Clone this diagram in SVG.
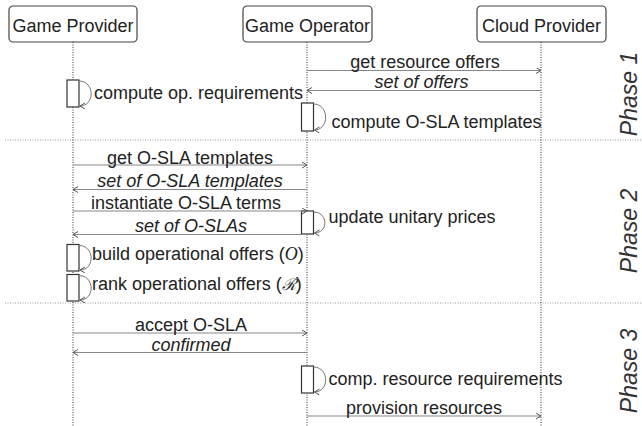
<svg xmlns="http://www.w3.org/2000/svg" width="642" height="426" viewBox="0 0 642 426">
<style>
  text { font-family: "Liberation Sans", Arial, sans-serif; font-size: 18px; fill: #222; }
  .it { font-style: italic; }
  .mid { text-anchor: middle; }
  .head { fill: #fff; stroke: #444; stroke-width: 1.2; }
  .life { stroke: #333; stroke-width: 1; stroke-dasharray: 1 1.5; fill: none; }
  .sep { stroke: #999; stroke-width: 1; stroke-dasharray: 1 1.5; fill: none; }
  .act { fill: #fff; stroke: #333; stroke-width: 1.2; }
  .msg { stroke: #888; stroke-width: 1.2; fill: none; marker-end: url(#ah); }
  .self { stroke: #777; stroke-width: 1; fill: none; marker-end: url(#ah); }
  .phase { font-size: 23px; font-style: italic; fill: #333; text-anchor: middle; }
</style>
<defs>
  <marker id="ah" markerWidth="8" markerHeight="8" refX="5" refY="3" orient="auto" markerUnits="userSpaceOnUse">
    <path d="M0,0 L5,3 L0,6" fill="none" stroke="#555" stroke-width="1"/>
  </marker>
</defs>
<rect width="642" height="426" fill="#fff"/>

<g id="separators">
  <line class="sep" x1="5" y1="140" x2="642" y2="140"/>
  <line class="sep" x1="5" y1="303" x2="642" y2="303"/>
</g>

<g id="game-provider">
  <line class="life" x1="73" y1="42" x2="73" y2="426"/>
  <rect class="head" x="9" y="6" width="128" height="36" rx="4"/>
  <text class="mid" x="73" y="32">Game Provider</text>
</g>
<g id="game-operator">
  <line class="life" x1="307" y1="42" x2="307" y2="426"/>
  <rect class="head" x="243" y="6" width="129" height="36" rx="4"/>
  <text class="mid" x="307.5" y="32">Game Operator</text>
</g>
<g id="cloud-provider">
  <line class="life" x1="541" y1="42" x2="541" y2="426"/>
  <rect class="head" x="477" y="6" width="129" height="36" rx="4"/>
  <text class="mid" x="541.5" y="32">Cloud Provider</text>
</g>

<g id="activations">
  <rect class="act" x="67" y="80" width="12" height="27"/>
  <rect class="act" x="301.5" y="103" width="12" height="28"/>
  <rect class="act" x="301.5" y="211" width="12" height="23"/>
  <rect class="act" x="67" y="244.5" width="12" height="26.5"/>
  <rect class="act" x="67" y="274.5" width="12" height="26.5"/>
  <rect class="act" x="301.5" y="366" width="12" height="27"/>
</g>

<g id="connectors">
  <line class="msg" x1="307" y1="70.5" x2="541" y2="70.5"/>
  <line class="msg" x1="541" y1="90.5" x2="307" y2="90.5"/>
  <path class="self" d="M79,81 C95,81 95,106 80,106"/>
  <path class="self" d="M313.5,104 C329.5,104 329.5,130 314.5,130"/>
  <line class="msg" x1="73" y1="165" x2="307" y2="165"/>
  <line class="msg" x1="307" y1="189.5" x2="73" y2="189.5"/>
  <line class="msg" x1="73" y1="211" x2="307" y2="211"/>
  <path class="self" d="M313.5,212 C328.5,212 328.5,233 314.5,233"/>
  <line class="msg" x1="307" y1="234.5" x2="73" y2="234.5"/>
  <path class="self" d="M79,245.5 C95,245.5 95,270 80,270"/>
  <path class="self" d="M79,275.5 C95,275.5 95,300 80,300"/>
  <line class="msg" x1="73" y1="333" x2="307" y2="333"/>
  <line class="msg" x1="307" y1="352.5" x2="73" y2="352.5"/>
  <path class="self" d="M313.5,367 C329.5,367 329.5,392 314.5,392"/>
  <line class="msg" x1="307" y1="416" x2="541" y2="416"/>
</g>

<g id="labels">
  <text class="mid" x="425" y="68">get resource offers</text>
  <text class="mid it" x="421.5" y="88">set of offers</text>
  <text x="94" y="99">compute op. requirements</text>
  <text x="331.5" y="127.5">compute O-SLA templates</text>

  <text class="mid" x="190" y="163.5">get O-SLA templates</text>
  <text class="mid it" x="190" y="186.5">set of O-SLA templates</text>
  <text class="mid" x="186" y="209">instantiate O-SLA terms</text>
  <text x="328.5" y="222.5">update unitary prices</text>
  <text class="mid it" x="191" y="231.5">set of O-SLAs</text>
  <text x="92" y="260">build operational offers (<tspan font-family="Liberation Serif, serif" font-style="italic">O</tspan>)</text>
  <text x="92" y="290">rank operational offers (<tspan font-family="DejaVu Serif, serif" font-style="italic" font-size="16">ℛ</tspan>)</text>

  <text class="mid" x="191" y="331">accept O-SLA</text>
  <text class="mid it" x="191" y="350.5">confirmed</text>
  <text x="328.5" y="385">comp. resource requirements</text>
  <text class="mid" x="424" y="414">provision resources</text>
</g>

<g id="phases">
  <text class="phase" x="636.5" y="94" transform="rotate(-90 636.5 94)">Phase 1</text>
  <text class="phase" x="636.5" y="231" transform="rotate(-90 636.5 231)">Phase 2</text>
  <text class="phase" x="636.5" y="371" transform="rotate(-90 636.5 371)">Phase 3</text>
</g>
</svg>
